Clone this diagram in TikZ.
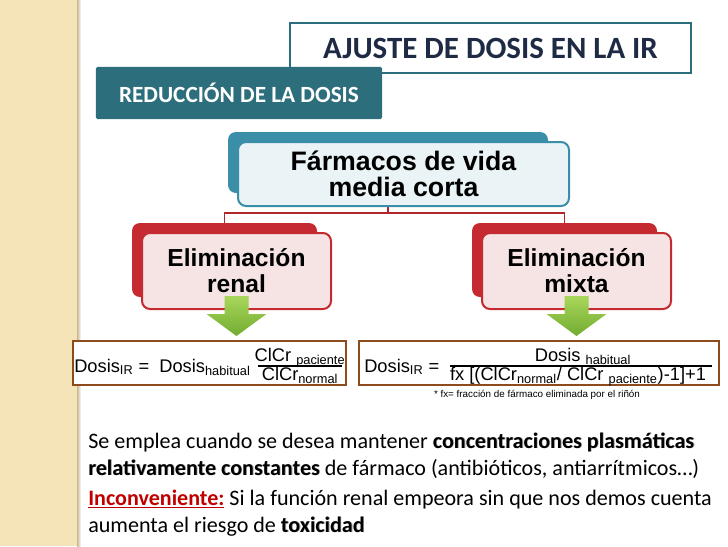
\documentclass[tikz,border=0pt]{standalone}
\usepackage{fontspec}
\setmainfont{Carlito}
\newfontfamily\arialf{Liberation Sans}
\usetikzlibrary{positioning,calc}
\definecolor{irink}{HTML}{1F2A44}
\definecolor{irteal}{HTML}{2C6E7C}
\definecolor{irblue}{HTML}{3A8EA7}
\definecolor{irice}{HTML}{EAF3F6}
\definecolor{irred}{HTML}{C42A30}
\definecolor{irrose}{HTML}{F6E3E3}
\definecolor{irwine}{HTML}{B0262B}
\definecolor{irbrown}{HTML}{8E4B1E}
\definecolor{irsand}{HTML}{F6E4B9}
\definecolor{irdune}{HTML}{C9B78F}
\definecolor{irlime}{HTML}{A8D65A}
\definecolor{irleaf}{HTML}{72AC32}
\definecolor{irflag}{HTML}{C00000}
\newcommand\shd[1]{\rlap{\raisebox{-0.6pt}{\kern0.6pt\color{black!35}#1}}#1}
\tikzset{
  hd/.style={draw=irteal, line width=0.5mm, fill=white, font=\fontsize{22}{25}\selectfont\bfseries, text=irink, minimum width=100.25mm, minimum height=12.5mm},
  sub/.style={fill=irteal, rounded corners=1pt, text=white, font=\fontsize{16.5}{18}\selectfont\bfseries, minimum width=71.5mm, minimum height=13mm},
  back/.style={rounded corners=2mm, inner sep=0pt},
  face/.style={rounded corners=2mm, line width=0.5mm, align=center, font=\arialf\fontsize{17.5}{18.5}\selectfont\bfseries, inner sep=0pt},
  link/.style={draw=irwine, line width=0.45mm},
  fbox/.style={draw=irbrown, line width=0.5mm, fill=white, minimum height=11mm, inner sep=0pt},
  fx/.style={font=\arialf\fontsize{13}{15}\selectfont, inner sep=0pt},
  note/.style={font=\arialf\fontsize{7}{9}\selectfont, inner sep=0pt},
  para/.style={font=\fontsize{15.7}{18}\selectfont, anchor=base west, inner sep=0pt},
  greenarrow/.pic={\shade[top color=irlime, bottom color=irleaf] (-12,-14) -- (12,-14) -- (12,4) -- (30,4) -- (0,26) -- (-30,4) -- (-12,4) -- cycle;},
}
\begin{document}
\begin{tikzpicture}[x=0.25mm, y=-0.25mm]
  \useasboundingbox (0,0) rectangle (728,546);
  \fill[irsand] (0,0) rectangle (77,546);
  \shade[left color=irdune, right color=white] (77,0) rectangle (81,546);
  \node[hd] (title) at (490.5,48) {AJUSTE DE DOSIS EN LA IR};
  \node[sub] (red) at (239,93) {REDUCCIÓN DE LA DOSIS};
  \node[back, fill=irblue, minimum width=80mm, minimum height=15.25mm] (tb) at (388,162.5) {};
  \node[back, fill=irred, minimum width=46.25mm, minimum height=18.5mm] (lb) at (224.5,260) {};
  \node[back, fill=irred, minimum width=46.25mm, minimum height=18.5mm] (mb) at (564.5,260) {};
  \foreach \b in {lb,mb} \draw[link] (tb.south) -- ++(0,20) -| (\b.north);
  \node[face, draw=irblue, fill=irice, minimum width=82.75mm, minimum height=16mm, font=\arialf\fontsize{19}{18.5}\selectfont\bfseries] (tf) at (403.5,174) {Fármacos de vida\\media corta};
  \node[face, draw=irred, fill=irrose, minimum width=47.25mm, minimum height=19mm] (lf) at (236.5,271) {Eliminación\\renal};
  \node[face, draw=irred, fill=irrose, minimum width=47.25mm, minimum height=19mm] (mf) at (576.5,271) {Eliminación\\mixta};
  \pic at (lf.south) {greenarrow};
  \pic at (mf.south) {greenarrow};
  \node[fbox, minimum width=68.25mm] (fl) at (209.5,363) {};
  \node[fx, anchor=base west] (fla) at (74,372) {Dosis\textsubscript{IR} =\ \ Dosis\textsubscript{habitual}};
  \node[fx, anchor=base] (fln) at (300,361) {ClCr \textsubscript{paciente}};
  \node[fx, anchor=base] (fld) at (300,380) {ClCr\textsubscript{normal}};
  \draw[line width=0.35mm] (258,366) -- (342,366);
  \node[fbox, minimum width=90mm] (fr) at (539,363) {};
  \node[fx, anchor=base west] (fra) at (364,372) {Dosis\textsubscript{IR} =};
  \node[fx, anchor=base] (frn) at (583,361) {Dosis \textsubscript{habitual}};
  \node[fx, anchor=base] (frd) at (578,380) {fx [(ClCr\textsubscript{normal}/ ClCr \textsubscript{paciente})-1]+1};
  \draw[line width=0.35mm] (450,366) -- (712,366);
  \node[note, anchor=base] (fn) at (537,397) {* fx= fracción de fármaco eliminada por el riñón};
  \node[para] (p1) at (88,448) {Se emplea cuando se desea mantener \textbf{\shd{concentraciones plasmáticas}}};
  \node[para] (p2) at (88,475) {\textbf{\shd{relativamente constantes}} de fármaco (antibióticos, antiarrítmicos…)};
  \node[para] (p3) at (88,505) {{\color{irflag}\underline{\textbf{Inconveniente:}}} Si la función renal empeora sin que nos demos cuenta};
  \node[para] (p4) at (88,532) {aumenta el riesgo de \textbf{\shd{toxicidad}}};
\end{tikzpicture}
\end{document}
